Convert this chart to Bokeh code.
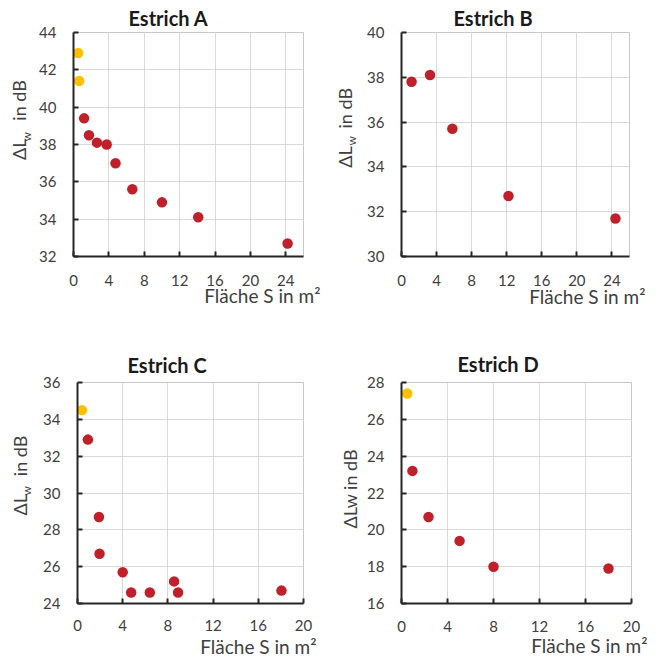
from bokeh.plotting import figure
from bokeh.layouts import column, row
from bokeh.models import Range1d, FixedTicker, Title
from bokeh.embed import file_html
from bokeh.resources import INLINE

# ---------------- data ----------------
a_yellow_x = [0.52, 0.64]
a_yellow_y = [42.9, 41.4]
a_red_x = [1.2, 1.75, 2.65, 3.75, 4.75, 6.65, 10.0, 14.1, 24.2]
a_red_y = [39.4, 38.5, 38.1, 38.0, 37.0, 35.6, 34.9, 34.1, 32.7]

b_red_x = [1.15, 3.25, 5.8, 12.2, 24.4]
b_red_y = [37.8, 38.1, 35.7, 32.7, 31.7]

c_yellow_x = [0.4]
c_yellow_y = [34.5]
c_red_x = [0.92, 1.9, 1.95, 4.0, 4.75, 6.4, 8.55, 8.9, 18.05]
c_red_y = [32.9, 28.7, 26.7, 25.7, 24.6, 24.6, 25.2, 24.6, 24.7]

d_yellow_x = [0.5]
d_yellow_y = [27.4]
d_red_x = [0.95, 2.35, 5.05, 8.0, 18.0]
d_red_y = [23.2, 20.7, 19.4, 18.0, 17.9]

titles = ["Estrich A", "Estrich B", "Estrich C", "Estrich D"]
x_label = "Fläche S in m²"
y_label_main = "ΔL\u00a0\u00a0\u00a0\u00a0in dB"
y_label_sub = "w"
y_label_plain = "ΔLw in dB"
x_ticks_ab = [0, 4, 8, 12, 16, 20, 24]
x_ticks_cd = [0, 4, 8, 12, 16, 20]

FONT = "Lato"
TXT = "#404040"
AXC = "#262626"
RED = "#C0202A"
YEL = "#FFC000"


def panel(W, H, ml, mr, mt, mb, xmax, ymin, ymax, xticks, red, yellow,
          title, t_off, t_sd, xt_sd, xl_off, xl_sd, yl_off, yl_sd,
          sub, w_off, w_sd):
    p = figure(width=W, height=H, output_backend="svg", toolbar_location=None,
               x_range=Range1d(0, xmax), y_range=Range1d(ymin, ymax),
               min_border_left=ml, min_border_right=mr,
               min_border_top=mt, min_border_bottom=mb)
    p.background_fill_color = "white"
    p.border_fill_color = "white"
    p.outline_line_color = "#C8C8C8"
    p.outline_line_width = 1

    yticks = list(range(ymin, ymax + 1, 2))
    p.xaxis.ticker = FixedTicker(ticks=xticks)
    p.yaxis.ticker = FixedTicker(ticks=yticks)
    p.xgrid.ticker = FixedTicker(ticks=xticks)
    p.ygrid.ticker = FixedTicker(ticks=yticks)
    for g in (p.xgrid, p.ygrid):
        g.grid_line_color = "#D9D9D9"
        g.grid_line_width = 1
    for ax in (p.xaxis, p.yaxis):
        ax.axis_line_color = AXC
        ax.axis_line_width = 2
        ax.major_tick_line_color = AXC
        ax.major_tick_line_width = 2
        ax.major_tick_in = 5
        ax.major_tick_out = 0
        ax.minor_tick_line_color = None
        ax.major_label_text_font = FONT
        ax.major_label_text_font_size = "15px"
        ax.major_label_text_color = TXT
    p.yaxis.major_label_standoff = 17
    p.xaxis.major_label_standoff = xt_sd

    if yellow is not None:
        p.scatter(yellow[0], yellow[1], size=10.5, fill_color=YEL, line_color=None)
    p.scatter(red[0], red[1], size=10.5, fill_color=RED, line_color=None)

    p.add_layout(Title(text=title, align="left", offset=t_off, standoff=t_sd,
                       vertical_align="bottom", text_font=FONT, text_font_size="20px",
                       text_font_style="bold", text_color="#1a1a1a"), "above")
    p.add_layout(Title(text=x_label, align="right", offset=xl_off, standoff=xl_sd,
                       vertical_align="bottom", text_font=FONT, text_font_size="19px",
                       text_font_style="normal", text_color=TXT), "below")
    if sub:
        p.add_layout(Title(text=y_label_sub, align="left", offset=w_off, standoff=w_sd,
                           vertical_align="bottom", text_font=FONT, text_font_size="12px",
                           text_font_style="normal", text_color=TXT), "left")
        ytext = y_label_main
    else:
        ytext = y_label_plain
    p.add_layout(Title(text=ytext, align="left", offset=yl_off, standoff=yl_sd,
                       vertical_align="bottom", text_font=FONT, text_font_size="18px",
                       text_font_style="normal", text_color=TXT), "left")
    return p


pa = panel(331, 330, 73, 28, 31, 73, 26, 32, 44, x_ticks_ab,
           (a_red_x, a_red_y), (a_yellow_x, a_yellow_y), titles[0],
           55, 5, 18, -17, -11.6, 96.5, -31, True, 115, 4.6)
pb = panel(331, 330, 70, 33, 32, 74, 26, 30, 40, x_ticks_ab,
           (b_red_x, b_red_y), None, titles[1],
           52, 5, 18, -16, -9.6, 88.7, -36.6, True, 111, 10.2)
pc = panel(331, 329, 77, 28, 52, 56, 20, 24, 36, x_ticks_cd,
           (c_red_x, c_red_y), (c_yellow_x, c_yellow_y), titles[2],
           50, 10.6, 16, -13, -2.0, 88, -38.2, True, 108, 12.2)
pd = panel(331, 329, 70, 31, 49, 54, 20, 16, 28, x_ticks_cd,
           (d_red_x, d_red_y), (d_yellow_x, d_yellow_y), titles[3],
           56, 13.4, 17, -16, -6.0, 75, 7.6, False, 0, 0)

layout = column(row(pa, pb), row(pc, pd))
open("out.html", "w").write(file_html(layout, INLINE))
